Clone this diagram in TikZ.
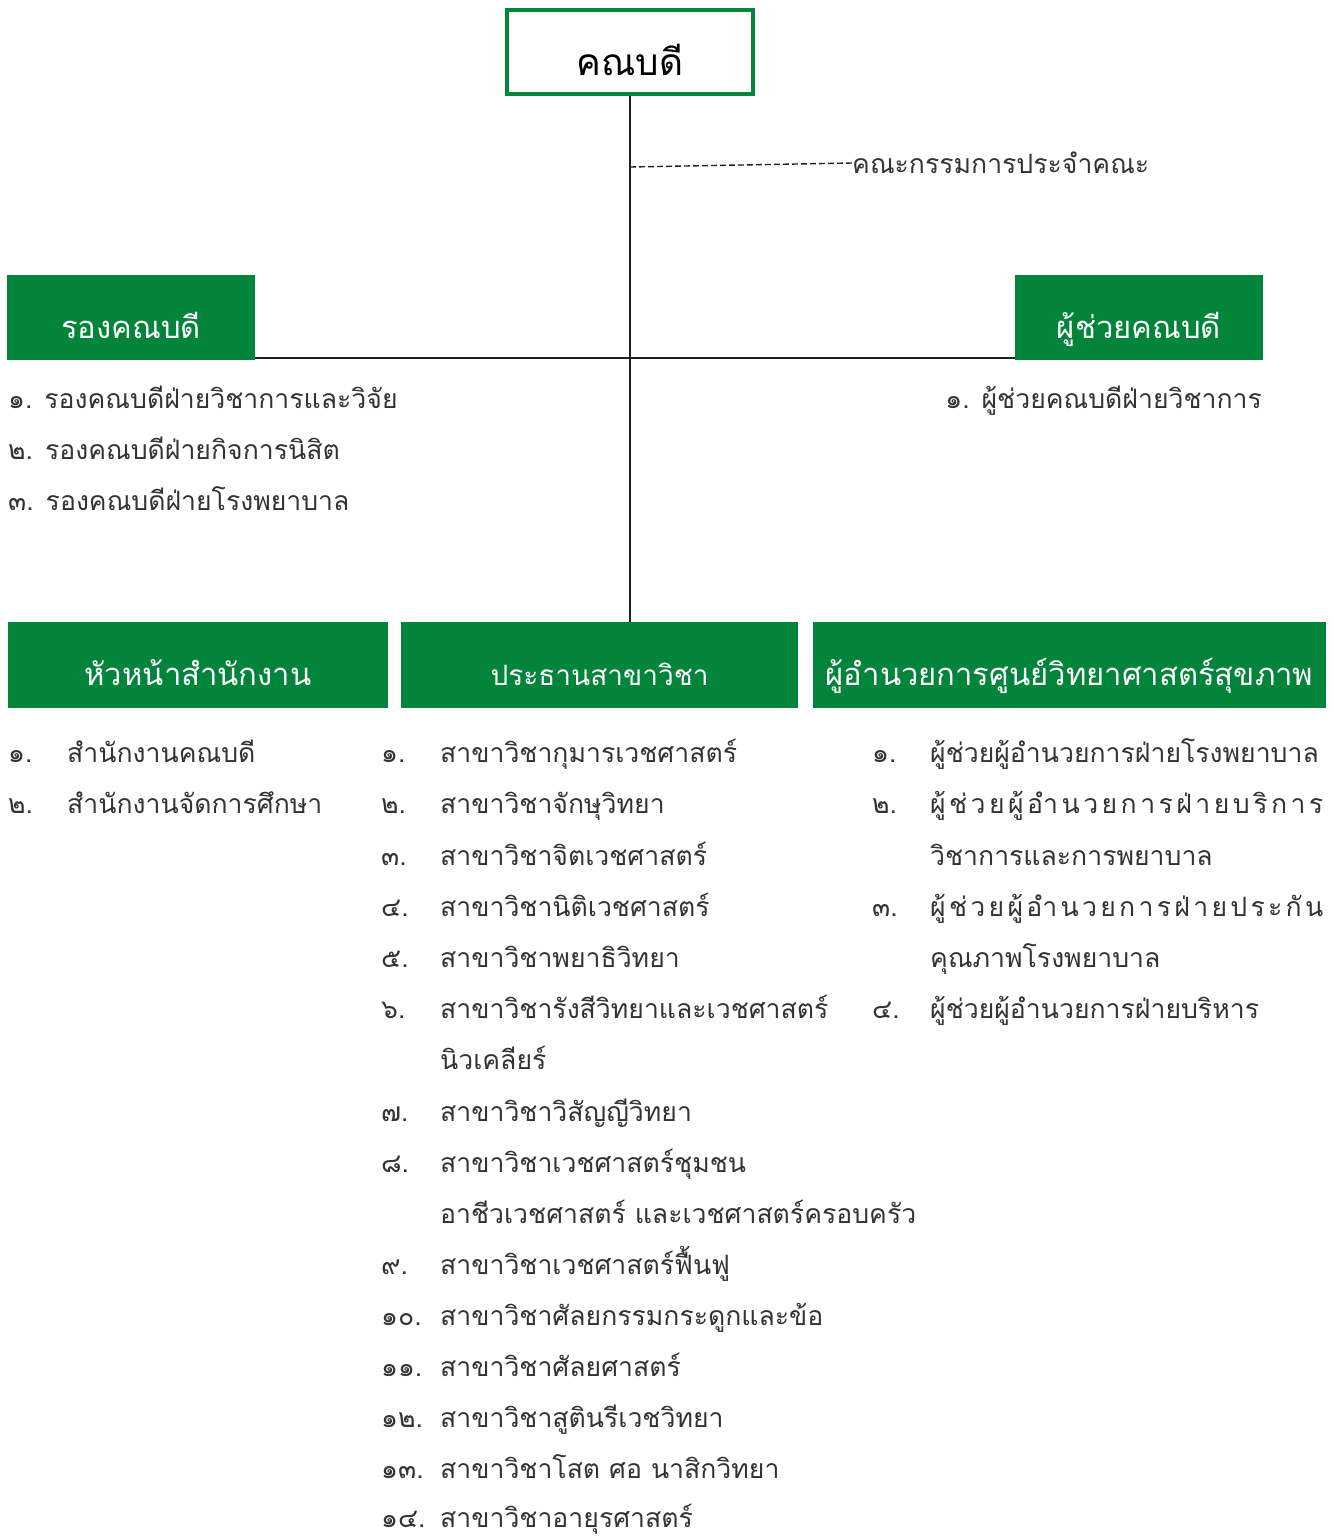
\documentclass[tikz,border=0pt]{standalone}
\usepackage{fontspec}
\newfontfamily\thai[Script=Thai]{Loma}
\definecolor{kgreen}{HTML}{02843A}
\definecolor{kline}{HTML}{231F20}
\definecolor{ktext}{HTML}{333333}
\newcommand{\hs}{\hfill}
\begin{document}
\begin{tikzpicture}[x=1pt,y=-1pt,
  hdr/.style={fill=kgreen,text=white,inner sep=0pt,text height=41pt,text depth=0pt,
    minimum height=85pt,font=\thai\fontsize{31}{36}\selectfont},
  itm/.style={anchor=base west,inner sep=0pt,font=\thai\fontsize{26.6}{32}\selectfont,text=ktext},
  itmr/.style={itm,anchor=base east},
  conn/.style={draw=kline,line width=2pt}]
\useasboundingbox (0,0) rectangle (1333,1537);
% top
\node[draw=kgreen,line width=4pt,fill=white,inner sep=0pt,minimum width=246pt,minimum height=84pt,
  text height=46pt,text depth=0pt,text=black,font=\thai\fontsize{37}{40}\selectfont] (dean) at (630,52) {คณบดี};
% headers
\node[hdr,minimum width=248pt] (rong) at (131,317.5) {รองคณบดี};
\node[hdr,minimum width=248pt] (pc) at (1139,317.5) {ผู้ช่วยคณบดี};
\node[hdr,minimum width=380pt,minimum height=86pt] (b1) at (198,665) {หัวหน้าสำนักงาน};
\node[hdr,minimum width=397pt,minimum height=86pt,font=\thai\fontsize{28}{32}\selectfont] (b2) at (599.5,665) {ประธานสาขาวิชา};
\node[hdr,minimum width=513pt,minimum height=86pt] (b3) at (1069.5,665) {ผู้อำนวยการศูนย์วิทยาศาสตร์สุขภาพ};
% committee
\coordinate (dj) at (630,167);
\node[itm,anchor=west] (kc) at (852,163) {คณะกรรมการประจำคณะ};
% connectors
\draw[conn] (dean.south) -- (dean.south |- b2.north);
\draw[conn] ([yshift=2pt]rong.south east) -- ([yshift=2pt]pc.south west);
\draw[draw=kline,line width=1.4pt,dash pattern=on 6pt off 3pt] (dj) -- (kc.west);
% left list
\node[itm] (r1) at (8,408) {๑. รองคณบดีฝ่ายวิชาการและวิจัย};
\node[itm] (r2) at (8,459) {๒. รองคณบดีฝ่ายกิจการนิสิต};
\node[itm] (r3) at (8,510) {๓. รองคณบดีฝ่ายโรงพยาบาล};
\node[itmr] (p1) at (1262,408) {๑. ผู้ช่วยคณบดีฝ่ายวิชาการ};
% box1 list
\node[itm] (n11) at (8,762) {๑.};
\node[itm] (t11) at (67,762) {สำนักงานคณบดี};
\node[itm] (n12) at (8,813) {๒.};
\node[itm] (t12) at (67,813) {สำนักงานจัดการศึกษา};
% box2 list
\node[itm] (n21) at (381,762) {๑.};
\node[itm] (t21) at (440,762) {สาขาวิชากุมารเวชศาสตร์};
\node[itm] (n22) at (381,813) {๒.};
\node[itm] (t22) at (440,813) {สาขาวิชาจักษุวิทยา};
\node[itm] (n23) at (381,865) {๓.};
\node[itm] (t23) at (440,865) {สาขาวิชาจิตเวชศาสตร์};
\node[itm] (n24) at (381,916) {๔.};
\node[itm] (t24) at (440,916) {สาขาวิชานิติเวชศาสตร์};
\node[itm] (n25) at (381,967) {๕.};
\node[itm] (t25) at (440,967) {สาขาวิชาพยาธิวิทยา};
\node[itm] (n26) at (381,1018) {๖.};
\node[itm] (t26) at (440,1018) {สาขาวิชารังสีวิทยาและเวชศาสตร์};
\node[itm] (t26b) at (440,1069) {นิวเคลียร์};
\node[itm] (n27) at (381,1121) {๗.};
\node[itm] (t27) at (440,1121) {สาขาวิชาวิสัญญีวิทยา};
\node[itm] (n28) at (381,1172) {๘.};
\node[itm] (t28) at (440,1172) {สาขาวิชาเวชศาสตร์ชุมชน};
\node[itm] (t28b) at (440,1223) {อาชีวเวชศาสตร์ และเวชศาสตร์ครอบครัว};
\node[itm] (n29) at (381,1274) {๙.};
\node[itm] (t29) at (440,1274) {สาขาวิชาเวชศาสตร์ฟื้นฟู};
\node[itm] (n210) at (381,1325) {๑๐.};
\node[itm] (t210) at (440,1325) {สาขาวิชาศัลยกรรมกระดูกและข้อ};
\node[itm] (n211) at (381,1376) {๑๑.};
\node[itm] (t211) at (440,1376) {สาขาวิชาศัลยศาสตร์};
\node[itm] (n212) at (381,1427) {๑๒.};
\node[itm] (t212) at (440,1427) {สาขาวิชาสูตินรีเวชวิทยา};
\node[itm] (n213) at (381,1478) {๑๓.};
\node[itm] (t213) at (440,1478) {สาขาวิชาโสต ศอ นาสิกวิทยา};
\node[itm] (n214) at (381,1527) {๑๔.};
\node[itm] (t214) at (440,1527) {สาขาวิชาอายุรศาสตร์};
% box3 list
\node[itm] (n31) at (872,762) {๑.};
\node[itm] (t31) at (930,762) {ผู้ช่วยผู้อำนวยการฝ่ายโรงพยาบาล};
\node[itm] (n32) at (872,813) {๒.};
\node[itm] (t32) at (930,813) {\makebox[393pt][s]{ผู้\hs ช่\hs ว\hs ย\hs ผู้\hs อำ\hs น\hs ว\hs ย\hs ก\hs า\hs ร\hs ฝ่\hs า\hs ย\hs บ\hs ริ\hs ก\hs า\hs ร}};
\node[itm] (t32b) at (930,865) {วิชาการและการพยาบาล};
\node[itm] (n33) at (872,916) {๓.};
\node[itm] (t33) at (930,916) {\makebox[393pt][s]{ผู้\hs ช่\hs ว\hs ย\hs ผู้\hs อำ\hs น\hs ว\hs ย\hs ก\hs า\hs ร\hs ฝ่\hs า\hs ย\hs ป\hs ร\hs ะ\hs กั\hs น}};
\node[itm] (t33b) at (930,967) {คุณภาพโรงพยาบาล};
\node[itm] (n34) at (872,1018) {๔.};
\node[itm] (t34) at (930,1018) {ผู้ช่วยผู้อำนวยการฝ่ายบริหาร};
\end{tikzpicture}
\end{document}
